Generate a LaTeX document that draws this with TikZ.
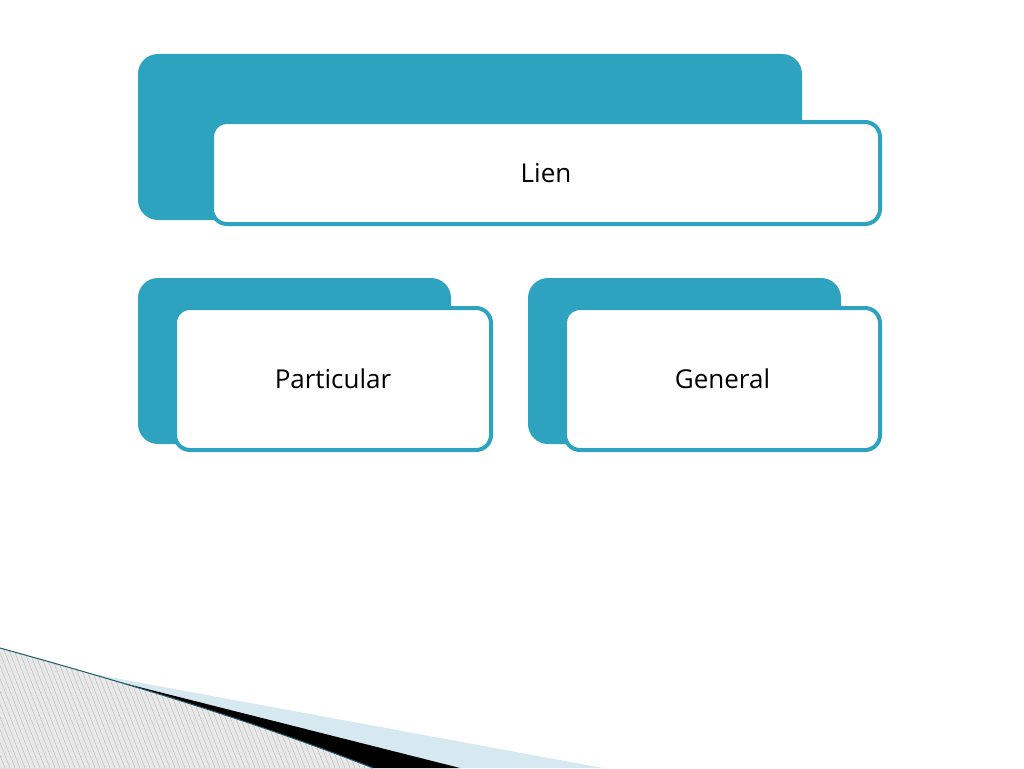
\documentclass[tikz,border=0pt]{standalone}
\usepackage{fontspec}
\setmainfont{Open Sans}
\definecolor{teal}{RGB}{46,163,192}
\definecolor{paleblue}{RGB}{214,233,241}
\definecolor{hatchgray}{RGB}{232,232,232}
\definecolor{hatchline}{RGB}{190,190,190}
\definecolor{darkteal}{RGB}{30,90,105}
\tikzset{
  backbox/.style={fill=teal,rounded corners=20pt,inner sep=0pt},
  frontbox/.style={draw=teal,line width=4pt,fill=white,rounded corners=15pt,inner sep=0pt,font=\fontsize{26}{30}\selectfont}
}
\begin{document}
\begin{tikzpicture}[x=1pt,y=-1pt]
\useasboundingbox (0,0) rectangle (1024,768);
    \begin{scope}
% top pair
\node[backbox,minimum width=664pt,minimum height=166pt] (lienback) at (470,137) {};
\node[frontbox,minimum width=668pt,minimum height=102pt] (lien) at (546,173) {Lien};
% lower pairs
\node[backbox,minimum width=313pt,minimum height=166pt] (partback) at (294.5,361) {};
\node[frontbox,minimum width=316pt,minimum height=142pt] (part) at (333,379) {Particular};
\node[backbox,minimum width=313pt,minimum height=166pt] (genback) at (684.5,361) {};
\node[frontbox,minimum width=315pt,minimum height=142pt] (gen) at (722.5,379) {General};
\end{scope}
% corner swoosh
\fill[paleblue] (0,648) -- (82,672) -- (603,768) -- (0,768) -- cycle;
\fill[black] (0,648) -- (60,667) -- (460,768) -- (0,768) -- cycle;
\begin{scope}
\clip (0,648) .. controls (130,684) and (250,720) .. (373,768) -- (0,768) -- cycle;
\fill[hatchgray] (0,640) rectangle (380,768);
    	\foreach \x in {-60,-55,...,380}
     		\draw[hatchline,line width=0.5pt] (\x,640) -- (\x+50,768);
\end{scope}
\draw[darkteal,line width=1pt] (0,648) .. controls (130,684) and (250,720) .. (373,768);
 \end{tikzpicture}
\end{document}
